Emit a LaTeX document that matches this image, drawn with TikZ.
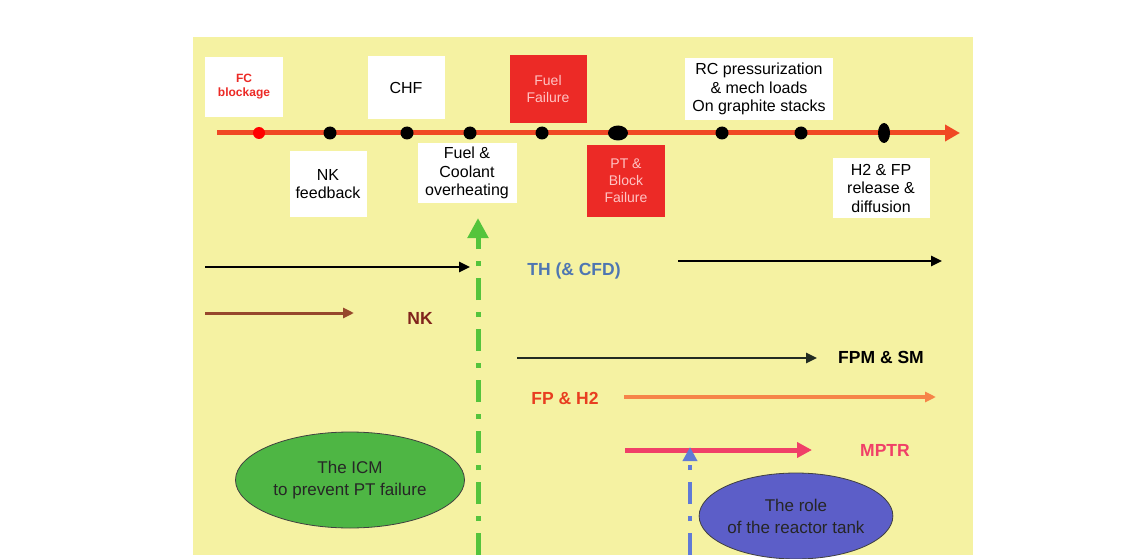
\documentclass[tikz,border=0pt]{standalone}
\usepackage{fontspec}
\setmainfont{Liberation Sans}
\usetikzlibrary{arrows.meta, shapes.geometric}

\definecolor{panel}{RGB}{245,242,162}
\definecolor{tline}{RGB}{240,72,36}
\definecolor{failred}{RGB}{236,42,38}
\definecolor{failtext}{RGB}{255,196,196}
\definecolor{thblue}{RGB}{78,118,178}
\definecolor{nkbrown}{RGB}{150,72,44}
\definecolor{nktext}{RGB}{128,36,28}
\definecolor{fpmline}{RGB}{34,44,34}
\definecolor{fpline}{RGB}{246,132,72}
\definecolor{fptext}{RGB}{232,62,32}
\definecolor{mptr}{RGB}{240,64,104}
\definecolor{icmgreen}{RGB}{78,182,68}
\definecolor{dashgreen}{RGB}{84,196,60}
\definecolor{tankblue}{RGB}{92,94,200}
\definecolor{dashblue}{RGB}{96,122,214}

\begin{document}
\begin{tikzpicture}[x=1pt,y=-1pt,>={Triangle[length=11pt,width=10pt]},
    event/.style={fill=white,align=center,inner sep=0pt,font=\fontsize{16}{18.5}\selectfont},
    failure/.style={fill=failred,text=failtext,align=center,inner sep=0pt,font=\fontsize{14}{17}\selectfont},
    dot/.style={circle,fill=black,inner sep=0pt,minimum size=13pt},
    code/.style={font=\fontsize{17.5}{20}\selectfont\bfseries},
    role/.style={ellipse,draw=black!75,line width=0.8pt,inner sep=0pt,text=black!85,align=center,font=\fontsize{17}{22}\selectfont},
    dashdot/.style={line width=5pt,dash pattern=on 22pt off 12pt on 5pt off 12pt}]

    \useasboundingbox (0,0) rectangle (1141,559);
    \fill[panel] (193,37) rectangle (973,555);

    %define the events above the time line
    \node[event,text=failred,font=\fontsize{12}{14}\selectfont\bfseries,minimum width=78pt,minimum height=60pt] (fc) at (244,87) {FC\\blockage};
    \node[event,minimum width=77pt,minimum height=63pt] (chf) at (406,88) {CHF};
    \node[failure,minimum width=77pt,minimum height=68pt] (ff) at (548,89) {Fuel\\Failure};
    \node[event,minimum width=148pt,minimum height=62pt] (rc) at (759,89) {RC pressurization\\\& mech loads\\On graphite stacks};

    %define the events below the time line
    \node[event,minimum width=77pt,minimum height=65pt] (nk) at (328,184) {NK\\feedback};
    \node[event,minimum width=99pt,minimum height=60pt] (fco) at (467,173) {Fuel \&\\Coolant\\overheating};
    \node[failure,minimum width=78pt,minimum height=72pt] (pt) at (626,181) {PT \&\\Block\\Failure};
    \node[event,minimum width=97pt,minimum height=60pt] (h2) at (881,188) {H2 \& FP\\release \&\\diffusion};

    % the time line
    \coordinate (t0) at (217,133);
    \coordinate (t1) at (960,133);
    \draw[tline,line width=5pt,-{Triangle[length=15pt,width=16pt]}] (t0) -- (t1);
    \node[dot,fill=red,minimum size=12pt] (d0) at (259,133) {};
    \foreach \n/\x in {d1/330,d2/407,d3/470,d4/542,d6/722,d7/801}
        \node[dot] (\n) at (\x,133) {};
    \node[dot,ellipse,minimum width=20pt,minimum height=15pt] (d5) at (618,133) {};
    \node[dot,ellipse,minimum width=12pt,minimum height=20pt] (d8) at (884,133) {};

    % define the code arrows
    \coordinate (th0) at (205,267);
    \coordinate (th1) at (470,267);
    \coordinate (th2) at (678,261);
    \coordinate (th3) at (942,261);
    \draw[line width=2.5pt,->] (th0) -- (th1);
    \draw[line width=2.5pt,->] (th2) -- (th3);
    \node[code,text=thblue] (th) at (574,271) {TH (\& CFD)};

    \coordinate (nk0) at (205,313);
    \coordinate (nk1) at (354,313);
    \draw[nkbrown,line width=3pt,->] (nk0) -- (nk1);
    \node[code,text=nktext] (nkc) at (420,318) {NK};

    \coordinate (fpm0) at (517,358);
    \coordinate (fpm1) at (817,358);
    \draw[fpmline,line width=2.5pt,->] (fpm0) -- (fpm1);
    \node[code] (fpm) at (881,357) {FPM \& SM};

    \node[code,text=fptext] (fp) at (565,398) {FP \& H2};
    \coordinate (fp0) at (624,397);
    \coordinate (fp1) at (936,397);
    \draw[fpline,line width=4pt,->] (fp0) -- (fp1);

    \coordinate (mp0) at (625,450);
    \coordinate (mp1) at (812,450);
    \draw[mptr,line width=5pt,-{Triangle[length=15pt,width=15pt]}] (mp0) -- (mp1);
    \node[code,text=mptr] (mp) at (885,450) {MPTR};

    % the two measures and their dash-dot arrows
    \coordinate (g0) at (478,555);
    \coordinate (g1) at (478,218);
    \draw[dashgreen,dashdot,-{Triangle[length=20pt,width=20pt]}] (g0) -- (g1);
    \coordinate (b0) at (690,555);
    \coordinate (b1) at (690,447);
    \draw[dashblue,dashdot,line width=4pt,-{Triangle[length=14pt,width=14pt]}] (b0) -- (b1);

    \node[role,fill=icmgreen,minimum width=229pt,minimum height=96pt] (icm) at (350,480) {The ICM\\to prevent PT failure};
    \node[role,fill=tankblue,minimum width=188pt,minimum height=86pt] (tank) at (796,516) {The role\\of the reactor tank};
\end{tikzpicture}
\end{document}
